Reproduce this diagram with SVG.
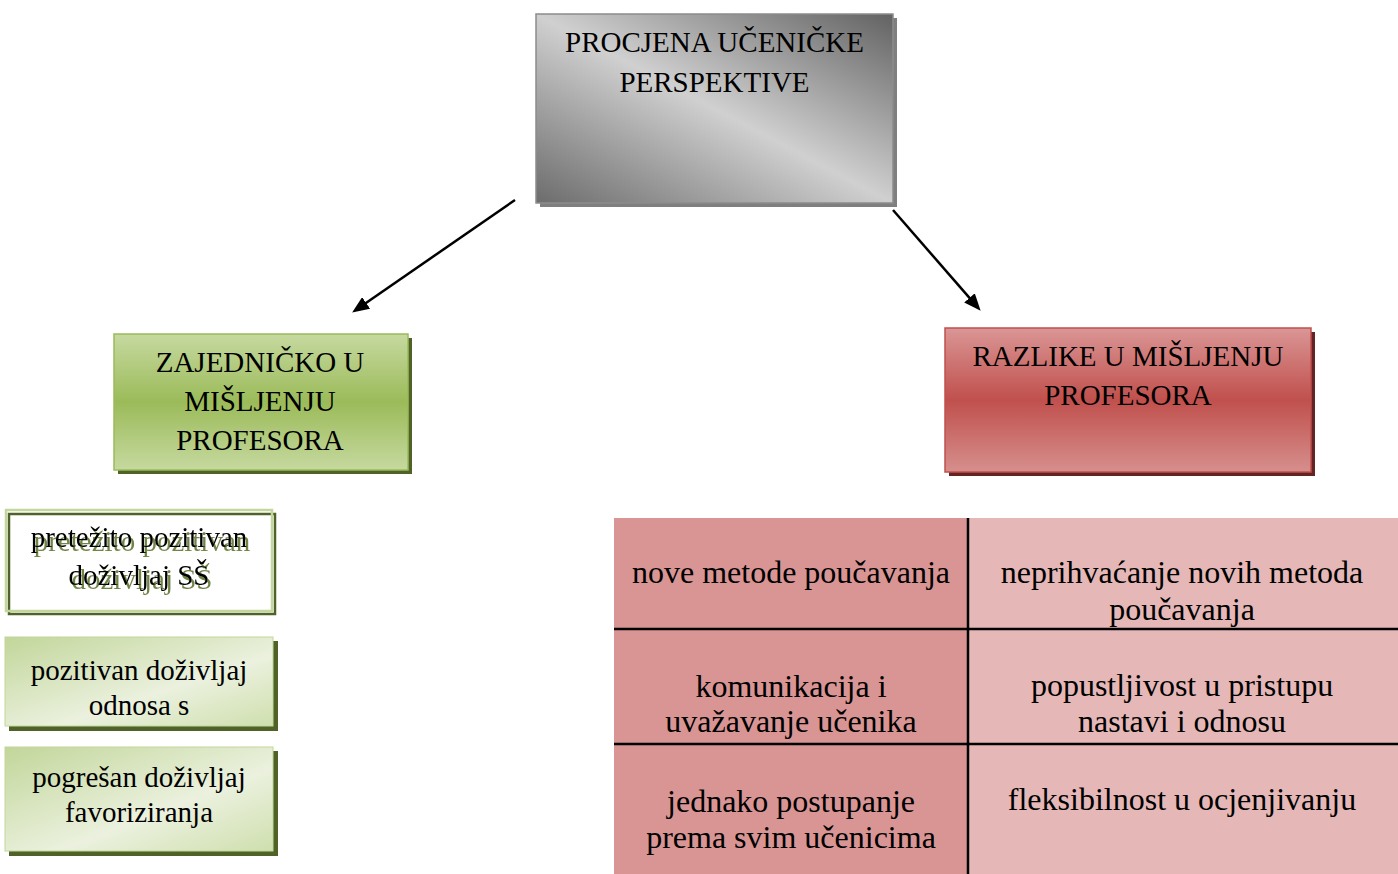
<svg xmlns="http://www.w3.org/2000/svg" width="1398" height="874" viewBox="0 0 1398 874">
<defs>
<linearGradient id="gGrey" x1="0" y1="1" x2="1" y2="0">
<stop offset="0" stop-color="#6c6c6c"/>
<stop offset="0.5" stop-color="#d0d0d0"/>
<stop offset="1" stop-color="#626262"/>
</linearGradient>
<linearGradient id="gGreen" x1="0" y1="0" x2="0" y2="1">
<stop offset="0" stop-color="#c6d9a0"/>
<stop offset="0.5" stop-color="#9bbb59"/>
<stop offset="1" stop-color="#c6d9a0"/>
</linearGradient>
<linearGradient id="gRed" x1="0" y1="0" x2="0" y2="1">
<stop offset="0" stop-color="#da9695"/>
<stop offset="0.5" stop-color="#c0504d"/>
<stop offset="1" stop-color="#d68f8d"/>
</linearGradient>
<linearGradient id="gLight" x1="0" y1="0" x2="1" y2="1">
<stop offset="0" stop-color="#c2d69a"/>
<stop offset="0.6" stop-color="#ebf1de"/>
<stop offset="1" stop-color="#cfdfae"/>
</linearGradient>
<filter id="txtShadow" x="-10%" y="-30%" width="120%" height="160%">
<feOffset in="SourceAlpha" dx="3" dy="4" result="off"/>
<feFlood flood-color="#718447"/>
<feComposite in2="off" operator="in" result="sh"/>
<feMerge>
<feMergeNode in="sh"/>
<feMergeNode in="SourceGraphic"/>
</feMerge>
</filter>
<marker id="arr" markerUnits="userSpaceOnUse" markerWidth="17" markerHeight="14" refX="2" refY="7" orient="auto">
<path d="M0,0 L17,7 L0,14 z" fill="#000"/>
</marker>
</defs>
<style>
text { font-family: "Liberation Serif", "Times New Roman", serif; fill: #000; text-anchor: middle; }
.big { font-size: 29px; }
.small { font-size: 29px; }
.cell { font-size: 32px; }
.conn { stroke: #000; stroke-width: 2.5; fill: none; marker-end: url(#arr); }
.grid { stroke: #000; stroke-width: 2.5; }
</style>

<g id="connectors">
<line class="conn" x1="515" y1="200" x2="364.5" y2="304"/>
<line class="conn" x1="893" y1="210" x2="970.8" y2="299.4"/>
</g>

<g id="node-procjena">
<rect x="540" y="18" width="357" height="189" fill="#7f7f7f"/>
<rect x="536" y="14" width="357" height="189" fill="url(#gGrey)" stroke="#8c8c8c" stroke-width="1.5"/>
<text class="big" x="714.5" y="52">PROCJENA UČENIČKE</text>
<text class="big" x="714.5" y="92">PERSPEKTIVE</text>
</g>

<g id="node-zajednicko">
<rect x="118" y="338" width="294" height="136" fill="#4f6228"/>
<rect x="114" y="334" width="294" height="136" fill="url(#gGreen)" stroke="#9bbb59" stroke-width="1.5"/>
<text class="big" x="260" y="372">ZAJEDNIČKO U</text>
<text class="big" x="260" y="411">MIŠLJENJU</text>
<text class="big" x="260" y="450">PROFESORA</text>
</g>

<g id="node-razlike">
<rect x="949" y="332" width="366" height="144" fill="#632423"/>
<rect x="945" y="328" width="366" height="144" fill="url(#gRed)" stroke="#c0504d" stroke-width="1.5"/>
<text class="big" x="1128" y="366">RAZLIKE U MIŠLJENJU</text>
<text class="big" x="1128" y="405">PROFESORA</text>
</g>

<g id="node-pretezito">
<rect x="6" y="510" width="266" height="101" fill="#fff"/>
<rect x="9" y="514" width="266" height="100" fill="none" stroke="#4f6228" stroke-width="2.5"/>
<rect x="6" y="510" width="266" height="101" fill="none" stroke="#c3d69b" stroke-width="2.5"/>
<text class="small" x="139" y="547" filter="url(#txtShadow)">pretežito pozitivan</text>
<text class="small" x="139" y="585" filter="url(#txtShadow)">doživljaj SŠ</text>
</g>

<g id="node-pozitivan">
<rect x="9" y="641" width="269" height="90" fill="#4f6228"/>
<rect x="5" y="637" width="268" height="89" fill="url(#gLight)" stroke="#c3d69b" stroke-width="1"/>
<text class="small" x="139" y="680">pozitivan doživljaj</text>
<text class="small" x="139" y="715">odnosa s</text>
</g>

<g id="node-pogresan">
<rect x="9" y="751" width="269" height="105" fill="#4f6228"/>
<rect x="5" y="747" width="268" height="104" fill="url(#gLight)" stroke="#c3d69b" stroke-width="1"/>
<text class="small" x="139" y="787">pogrešan doživljaj</text>
<text class="small" x="139" y="822">favoriziranja</text>
</g>

<g id="table">
<rect x="614" y="518" width="354" height="356" fill="#d99594"/>
<rect x="968" y="518" width="430" height="356" fill="#e5b8b7"/>
<line class="grid" x1="968" y1="518" x2="968" y2="874"/>
<line class="grid" x1="614" y1="629" x2="1398" y2="629"/>
<line class="grid" x1="614" y1="744" x2="1398" y2="744"/>
<text class="cell" x="791" y="583">nove metode poučavanja</text>
<text class="cell" x="1182" y="583">neprihvaćanje novih metoda</text>
<text class="cell" x="1182" y="620">poučavanja</text>
<text class="cell" x="791" y="697">komunikacija i</text>
<text class="cell" x="791" y="732">uvažavanje učenika</text>
<text class="cell" x="1182" y="696">popustljivost u pristupu</text>
<text class="cell" x="1182" y="732">nastavi i odnosu</text>
<text class="cell" x="791" y="812">jednako postupanje</text>
<text class="cell" x="791" y="848">prema svim učenicima</text>
<text class="cell" x="1182" y="810">fleksibilnost u ocjenjivanju</text>
</g>
</svg>
